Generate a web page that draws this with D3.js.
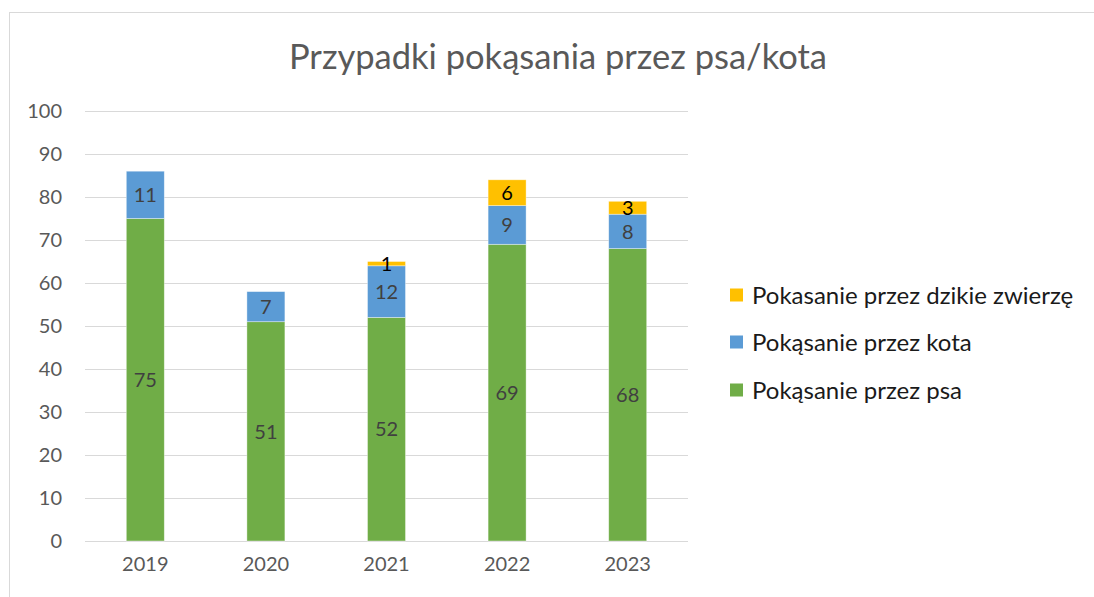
<!DOCTYPE html>
<html>
<head>
<meta charset="utf-8">
<script src="https://cdn.jsdelivr.net/npm/d3@7"></script>
<style>
  body { margin: 0; background: #fff; }
  svg { display: block; font-family: Lato, "Open Sans", sans-serif; }
</style>
</head>
<body>
<svg id="chart" width="1094" height="597"></svg>
<script>
var years = ["2019", "2020", "2021", "2022", "2023"];
var psa = [75, 51, 52, 69, 68];
var kota = [11, 7, 12, 9, 8];
var dzikie = [0, 0, 1, 6, 3];
var seriesNames = ["Pokąsanie przez psa", "Pokąsanie przez kota", "Pokasanie przez dzikie zwierzę"];
var colors = ["#70AD47", "#5B9BD5", "#FFC000"];
var labelColors = ["#404040", "#404040", "#000000"];
var yTicks = [0, 10, 20, 30, 40, 50, 60, 70, 80, 90, 100];

var svg = d3.select("#chart");

// chart border (runs off the right and bottom edge)
svg.append("rect")
    .attr("x", 9.5).attr("y", 12.5)
    .attr("width", 1200).attr("height", 700)
    .attr("fill", "none")
    .attr("stroke", "#d9d9d9");

var x = d3.scaleBand().domain(years).range([85, 688]).paddingInner(0.685).paddingOuter(0.3425);
var y = d3.scaleLinear().domain([0, 100]).range([541, 111]);

var rows = years.map(function(yr, i) {
  return { year: yr, psa: psa[i], kota: kota[i], dzikie: dzikie[i] };
});
var stack = d3.stack().keys(["psa", "kota", "dzikie"]);
var layers = stack(rows);

// gridlines
svg.append("g").selectAll("line")
  .data(yTicks)
  .enter().append("line")
    .attr("x1", 85).attr("x2", 688)
    .attr("y1", function(d) { return y(d) + 0.5; })
    .attr("y2", function(d) { return y(d) + 0.5; })
    .attr("stroke", "#d9d9d9")
    .attr("stroke-width", 1);

// y axis labels
var yAxis = d3.axisLeft(y).tickValues(yTicks).tickSize(0).tickPadding(0);
var ga = svg.append("g").attr("transform", "translate(62,0)").call(yAxis);
ga.select(".domain").remove();
ga.selectAll("text")
    .attr("fill", "#595959")
    .style("font-size", "20px")
    .style("font-family", "Lato, sans-serif");

// x axis labels
var xAxis = d3.axisBottom(x).tickSize(0).tickPadding(0);
var gx = svg.append("g").attr("transform", "translate(0,557)").call(xAxis);
gx.select(".domain").remove();
gx.selectAll("text")
    .attr("fill", "#595959")
    .style("font-size", "20px")
    .style("font-family", "Lato, sans-serif");

// bars
var layerG = svg.append("g").selectAll("g")
  .data(layers)
  .enter().append("g")
    .attr("fill", function(d, i) { return colors[i]; });

layerG.selectAll("rect")
  .data(function(d) { return d.filter(function(s) { return s[1] > s[0]; }); })
  .enter().append("rect")
    .attr("x", function(d) { return x(d.data.year); })
    .attr("y", function(d) { return y(d[1]); })
    .attr("width", x.bandwidth())
    .attr("height", function(d) { return y(d[0]) - y(d[1]); })
    .attr("stroke", "#ffffff")
    .attr("stroke-opacity", 0.5)
    .attr("stroke-width", 0.75);

// data labels
layers.forEach(function(layer, i) {
  svg.append("g").selectAll("text")
    .data(layer.filter(function(s) { return s[1] > s[0]; }))
    .enter().append("text")
      .attr("x", function(d) { return x(d.data.year) + x.bandwidth() / 2; })
      .attr("y", function(d) { return y((d[0] + d[1]) / 2); })
      .attr("dy", "0.36em")
      .attr("text-anchor", "middle")
      .attr("fill", labelColors[i])
      .style("font-size", "20px")
      .text(function(d) { return d[1] - d[0]; });
});

// title
svg.append("text")
    .attr("x", 558).attr("y", 69)
    .attr("text-anchor", "middle")
    .attr("fill", "#595959")
    .style("font-size", "34.5px")
    .text("Przypadki pokąsania przez psa/kota");

// legend (reverse order like the original)
var legendY = [295, 342, 390];
var legend = svg.append("g").selectAll("g")
  .data([2, 1, 0])
  .enter().append("g")
    .attr("transform", function(d, i) { return "translate(730," + legendY[i] + ")"; });

legend.append("rect")
    .attr("x", 0).attr("y", -6.5)
    .attr("width", 13).attr("height", 13)
    .attr("fill", function(d) { return colors[d]; });

legend.append("text")
    .attr("x", 22).attr("y", 0)
    .attr("dy", "0.36em")
    .attr("fill", "#1a1a1a")
    .style("font-size", "24px")
    .text(function(d) { return seriesNames[d]; });
</script>
</body>
</html>
